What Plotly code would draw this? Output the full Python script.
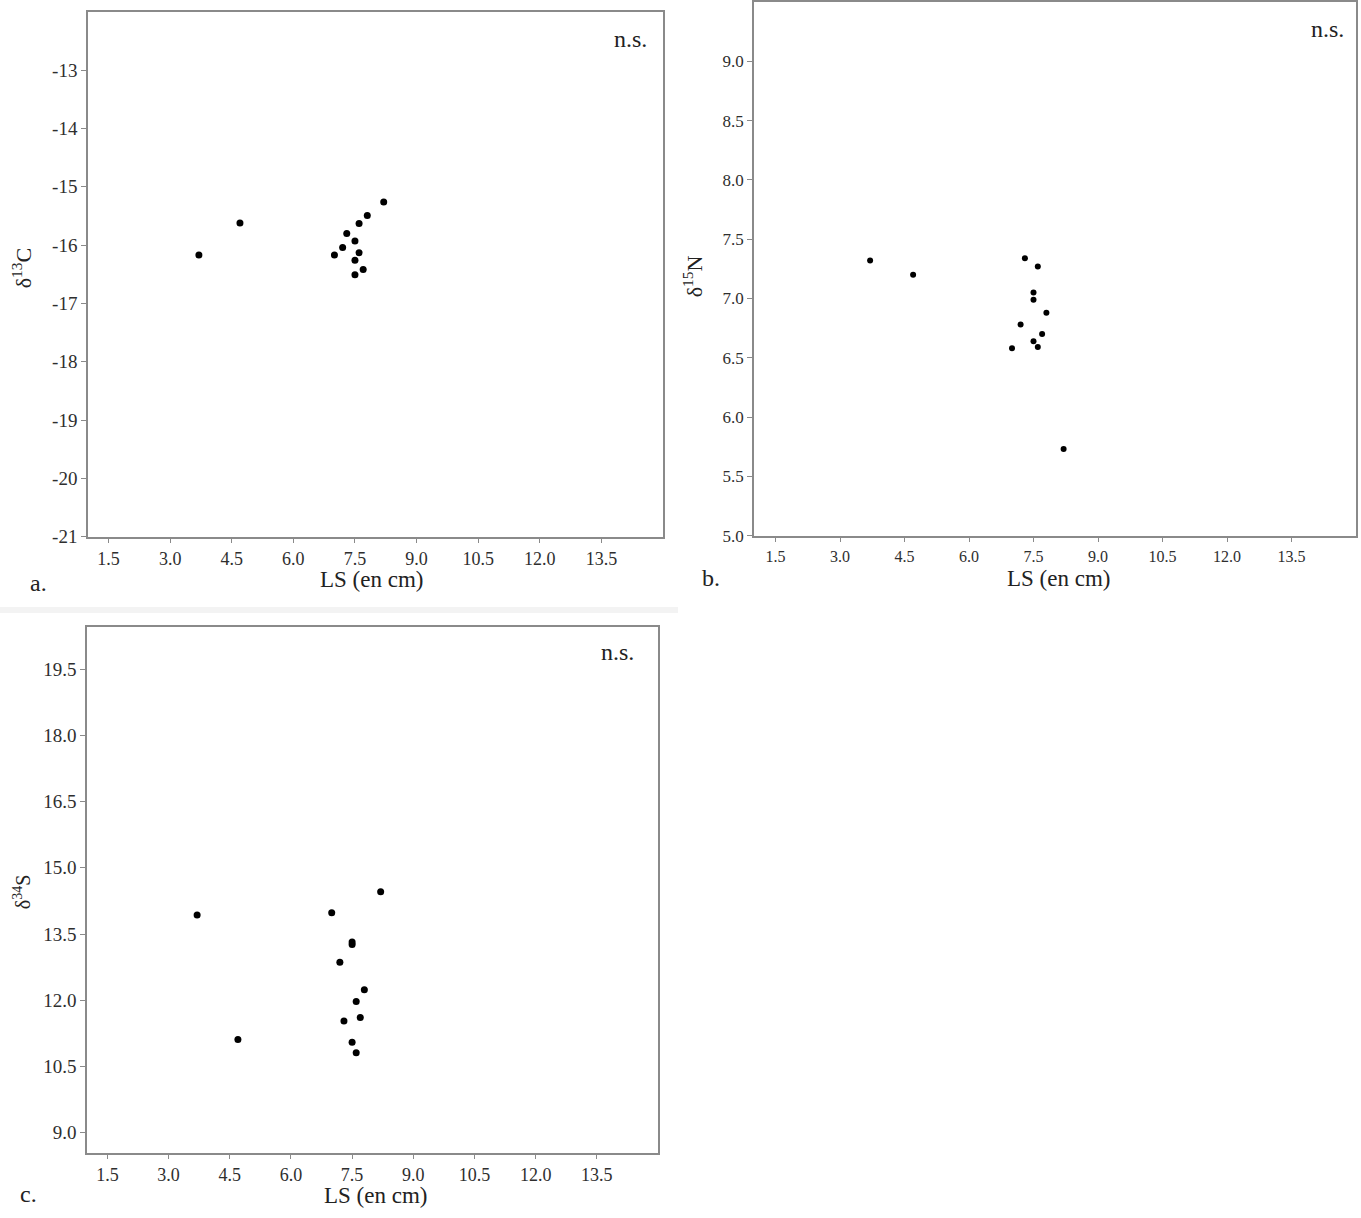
import plotly.graph_objects as go

# Panel a: LS vs δ13C
a_ls = [3.7, 4.7, 8.2, 7.8, 7.6, 7.3, 7.5, 7.2, 7.6, 7.0, 7.5, 7.7, 7.5]
a_d13c = [-16.17, -15.62, -15.26, -15.49, -15.63, -15.80, -15.93, -16.04, -16.13, -16.17, -16.26, -16.42, -16.51]

# Panel b: LS vs δ15N
b_ls = [3.7, 4.7, 7.3, 7.6, 7.5, 7.5, 7.8, 7.2, 7.7, 7.5, 7.6, 7.0, 8.2]
b_d15n = [7.32, 7.20, 7.34, 7.27, 7.05, 6.99, 6.88, 6.78, 6.70, 6.64, 6.59, 6.58, 5.73]

# Panel c: LS vs δ34S
c_ls = [3.7, 4.7, 8.2, 7.0, 7.5, 7.5, 7.2, 7.8, 7.6, 7.7, 7.3, 7.5, 7.6]
c_d34s = [13.93, 11.11, 14.46, 13.98, 13.32, 13.26, 12.86, 12.24, 11.97, 11.61, 11.53, 11.05, 10.81]

x_ticks = [1.5, 3.0, 4.5, 6.0, 7.5, 9.0, 10.5, 12.0, 13.5]
x_ticklabels = ["1.5", "3.0", "4.5", "6.0", "7.5", "9.0", "10.5", "12.0", "13.5"]
a_yticks = [-21, -20, -19, -18, -17, -16, -15, -14, -13]
b_yticks = [5.0, 5.5, 6.0, 6.5, 7.0, 7.5, 8.0, 8.5, 9.0]
c_yticks = [9.0, 10.5, 12.0, 13.5, 15.0, 16.5, 18.0, 19.5]

W, H = 1361, 1218
FONT = "Liberation Serif"
LINE = "#8a8a8a"
TXT = "#2e2e2e"


def px(x):
    return x / W


def py(y):
    return 1 - y / H


fig = go.Figure()
fig.add_trace(go.Scatter(x=a_ls, y=a_d13c, mode="markers", marker=dict(color="black", size=7),
                         xaxis="x", yaxis="y", showlegend=False))
fig.add_trace(go.Scatter(x=b_ls, y=b_d15n, mode="markers", marker=dict(color="black", size=6),
                         xaxis="x2", yaxis="y2", showlegend=False))
fig.add_trace(go.Scatter(x=c_ls, y=c_d34s, mode="markers", marker=dict(color="black", size=7),
                         xaxis="x3", yaxis="y3", showlegend=False))


def xax(dom, anchor, size):
    return dict(domain=dom, anchor=anchor, range=[1.0, 15.0], tickvals=x_ticks, ticktext=x_ticklabels,
                showgrid=False, zeroline=False, showline=True, mirror=True, linecolor=LINE, linewidth=1.5,
                ticks="outside", ticklen=5, tickcolor=LINE, tickfont=dict(family=FONT, size=size, color=TXT))


def yax(dom, anchor, rng, vals, fmt, size):
    return dict(domain=dom, anchor=anchor, range=rng, tickvals=vals,
                ticktext=[fmt.format(v) for v in vals],
                showgrid=False, zeroline=False, showline=True, mirror=True, linecolor=LINE, linewidth=1.5,
                ticks="outside", ticklen=5, tickcolor=LINE, tickfont=dict(family=FONT, size=size, color=TXT))


fig.update_layout(
    width=W, height=H,
    margin=dict(l=0, r=0, t=0, b=0),
    paper_bgcolor="white", plot_bgcolor="white",
    font=dict(family=FONT, color=TXT),
    xaxis=xax([px(88), px(663)], "y", 18),
    yaxis=yax([py(541), py(11)], "x", [-21, -12], a_yticks, "{:d}", 19),
    xaxis2=xax([px(754), px(1356)], "y2", 16),
    yaxis2=yax([py(540), py(1)], "x2", [5.0, 9.5], b_yticks, "{:.1f}", 17),
    xaxis3=xax([px(87), px(658)], "y3", 18),
    yaxis3=yax([py(1163), py(632)], "x3", [8.55, 20.46], c_yticks, "{:.1f}", 19),
)

annots = [
    ("LS (en cm)", 371, 584, 23, 0),
    ("LS (en cm)", 1058, 583, 23, 0),
    ("LS (en cm)", 375, 1206, 23, 0),
    ("δ<sup>13</sup>C", 22, 270, 22, -90),
    ("δ<sup>15</sup>N", 693, 278, 22, -90),
    ("δ<sup>34</sup>S", 22, 900, 20, -90),
    ("n.s.", 630, 38, 24, 0),
    ("n.s.", 1327, 28, 24, 0),
    ("n.s.", 617, 657, 24, 0),
    ("a.", 38, 588, 24, 0),
    ("b.", 711, 583, 24, 0),
    ("c.", 28, 1205, 24, 0),
]
for t, x, y, s, ang in annots:
    fig.add_annotation(text=t, x=px(x), y=py(y), xref="paper", yref="paper", showarrow=False,
                       xanchor="center", yanchor="middle", textangle=ang,
                       font=dict(family=FONT, size=s, color="#222222"))

fig.add_shape(type="rect", xref="paper", yref="paper", x0=0, x1=px(678), y0=py(618), y1=py(612),
              fillcolor="#f3f3f3", line=dict(width=0), layer="below")

fig.write_html(
    "out.html",
    config={"displayModeBar": False},
    post_script="document.documentElement.style.margin='0';document.body.style.margin='0';"
                "document.documentElement.style.overflow='hidden';document.body.style.overflow='hidden';",
)
